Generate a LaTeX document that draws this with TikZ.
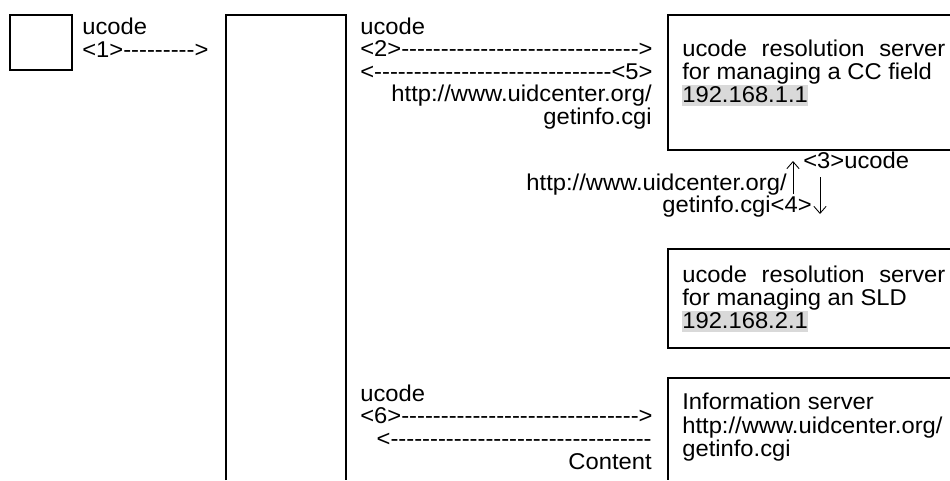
\documentclass[tikz,border=0pt]{standalone}
\usepackage{fontspec}
\setmainfont{Liberation Sans}[FakeStretch=1.04]
\usetikzlibrary{arrows.meta}
\definecolor{ipgray}{rgb}{0.85,0.85,0.85}
% a run of single hyphens (no ligatures)
\newcommand{\dashes}[1]{\foreach \dd in {1,...,#1}{-\kern0pt}}
\newcommand{\ipbox}[1]{{\fboxsep=0pt\colorbox{ipgray}{\rule[-2.5pt]{0pt}{12.2pt}#1}}}
\tikzset{
  txt/.style={inner sep=0pt, font=\fontsize{13}{13}\selectfont},
  frame/.style={line width=1.1pt},
  flow/.style={line width=0.5pt, -{Straight Barb[length=4pt,width=7pt]}}
}

\begin{document}
\begin{tikzpicture}
    \useasboundingbox (0,0) rectangle (19,9.6);
    % Terminal
    \draw[frame] (0.2,9.3) rectangle (1.44,8.2);
    \node[txt, anchor=base west] (req1code) at (1.64,8.92) {ucode};
    \node[txt, anchor=base west] (req1) at (1.64,8.46) {<1>\dashes{9}>};
    % Communication device
    \draw[frame] (4.52,0) |- (6.92,9.3) -- (6.92,0);
    % Request to the CC field server
    \node[txt, anchor=base west] (req2code) at (7.2,8.92) {ucode};
    \node[txt, anchor=base west] (req2) at (7.2,8.48) {<2>\dashes{30}>};
    \node[txt, anchor=base west] (res5) at (7.2,8.02) {<\dashes{30}<5>};
    \node[txt, anchor=base east] (res5url) at (13.04,7.58) {http://www.uidcenter.org/};
    \node[txt, anchor=base east] (res5cgi) at (13.04,7.12) {getinfo.cgi};
    % Server for the CC field
    \draw[frame] (19,9.3) -| (13.36,6.6) -- (19,6.6);
    \node[txt, anchor=base west] (cc1) at (13.64,8.48) {\makebox[5.26cm][s]{ucode resolution server}};
    \node[txt, anchor=base west] (cc2) at (13.64,8.02) {for managing a CC field};
    \node[txt, anchor=base west] (cc3) at (13.64,7.56) {\ipbox{192.168.1.1}};
    % Query between the two servers
    \coordinate (up0) at (15.86,5.72);
    \coordinate (up1) at (15.86,6.38);
    \coordinate (dn0) at (16.4,6.06);
    \coordinate (dn1) at (16.4,5.32);
    \draw[flow] (up0) -- (up1);
    \draw[flow] (dn0) -- (dn1);
    \node[txt, anchor=base west] (req3) at (16.06,6.24) {<3>ucode};
    \node[txt, anchor=base east] (res4url) at (15.74,5.8) {http://www.uidcenter.org/};
    \node[txt, anchor=base east] (res4) at (16.24,5.36) {getinfo.cgi<4>};
    % Server for the SLD
    \draw[frame] (19,4.62) -| (13.36,2.64) -- (19,2.64);
    \node[txt, anchor=base west] (sld1) at (13.64,3.96) {\makebox[5.26cm][s]{ucode resolution server}};
    \node[txt, anchor=base west] (sld2) at (13.64,3.5) {for managing an SLD};
    \node[txt, anchor=base west] (sld3) at (13.64,3.04) {\ipbox{192.168.2.1}};
    % Request to the information server
    \node[txt, anchor=base west] (req6code) at (7.2,1.58) {ucode};
    \node[txt, anchor=base west] (req6) at (7.2,1.14) {<6>\dashes{30}>};
    \node[txt, anchor=base east] (ret) at (13.04,0.68) {<\dashes{33}};
    \node[txt, anchor=base east] (content) at (13.04,0.22) {Content};
    % Information server
    \draw[frame] (19,2.04) -| (13.36,0);
    \node[txt, anchor=base west] (info1) at (13.64,1.42) {Information server};
    \node[txt, anchor=base west] (info2) at (13.64,0.94) {http://www.uidcenter.org/};
    \node[txt, anchor=base west] (info3) at (13.64,0.48) {getinfo.cgi};
\end{tikzpicture}
\end{document}
